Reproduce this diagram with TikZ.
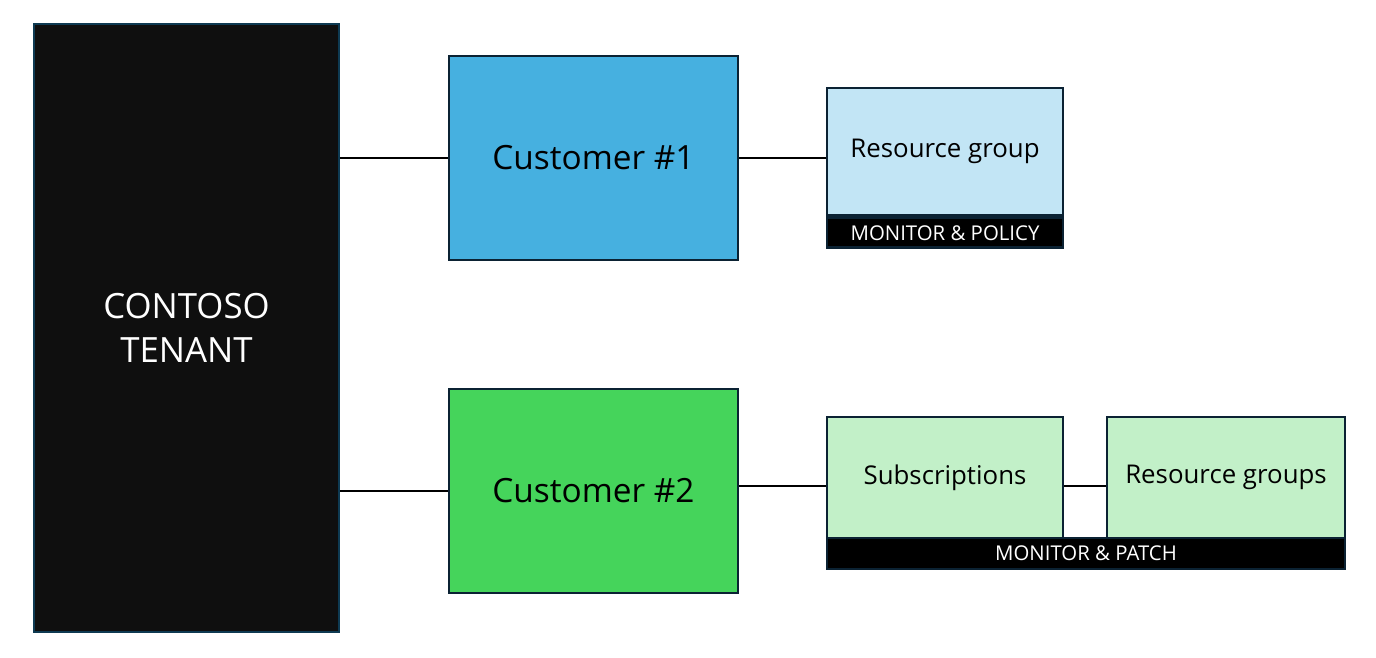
\documentclass[tikz,border=0pt]{standalone}
\usepackage{fontspec}
\setmainfont{Open Sans}
\usetikzlibrary{positioning,calc}
\definecolor{tenantfill}{HTML}{0F0F0F}
\definecolor{tenantline}{HTML}{0E3A52}
\definecolor{boxline}{HTML}{0B2233}
\definecolor{custblue}{HTML}{46B0E0}
\definecolor{custgreen}{HTML}{45D45B}
\definecolor{paleblue}{HTML}{C2E5F5}
\definecolor{palegreen}{HTML}{C2F0C8}
\tikzset{box/.style={draw=boxline,line width=1.6pt,inner sep=0pt,align=center},
  cust/.style={box,minimum width=5.78cm,minimum height=4.08cm,font=\fontsize{19}{22}\selectfont},
  res/.style={box,minimum height=2.42cm,font=\fontsize{14.7}{17}\selectfont},
  band/.style={box,fill=black,text=white,font=\fontsize{11.6}{13}\selectfont},
  link/.style={line width=1.6pt,black}}
\begin{document}
\begin{tikzpicture}[x=0.02cm,y=-0.02cm]
\useasboundingbox (0,0) rectangle (1376,657);
% tenant on the left
\node[box,draw=tenantline,fill=tenantfill,text=white,minimum width=6.1cm,minimum height=12.16cm,
  font=\fontsize{19.8}{25}\selectfont] (tenant) at (186.5,328) {CONTOSO\\TENANT};
% customers
\node[cust,fill=custblue] (cust1) at (593.5,158) {Customer \#1};
\node[cust,fill=custgreen] (cust2) at (593.5,491) {Customer \#2};
% customer 1 scope
\node[res,fill=paleblue,minimum width=4.72cm,minimum height=2.54cm] (rg) at (945,151.5) {Resource group};
\node[band,minimum width=4.72cm,minimum height=0.6cm,below=0pt of rg] (polband) {MONITOR \& POLICY};
% customer 2 scope
\node[res,fill=palegreen,minimum width=4.72cm] (subs) at (945,477.5) {Subscriptions};
\node[res,fill=palegreen,minimum width=4.76cm] (rgs) at (1226,477.5) {Resource groups};
\node[band,minimum width=10.36cm,minimum height=0.62cm] (patchband) at (1086,553.5) {MONITOR \& PATCH};
% connectors
\draw[link] (tenant.east |- cust1.west) -- (cust1.west);
\draw[link] (tenant.east |- cust2.west) -- (cust2.west);
\draw[link] (cust1.east) -- (cust1.east -| rg.west);
\draw[link] ([yshift=0.1cm]cust2.east) -- ([yshift=0.1cm]cust2.east -| subs.west);
\draw[link] ([yshift=0.1cm]cust2.east -| subs.east) -- ([yshift=0.1cm]cust2.east -| rgs.west);
\end{tikzpicture}
\end{document}
